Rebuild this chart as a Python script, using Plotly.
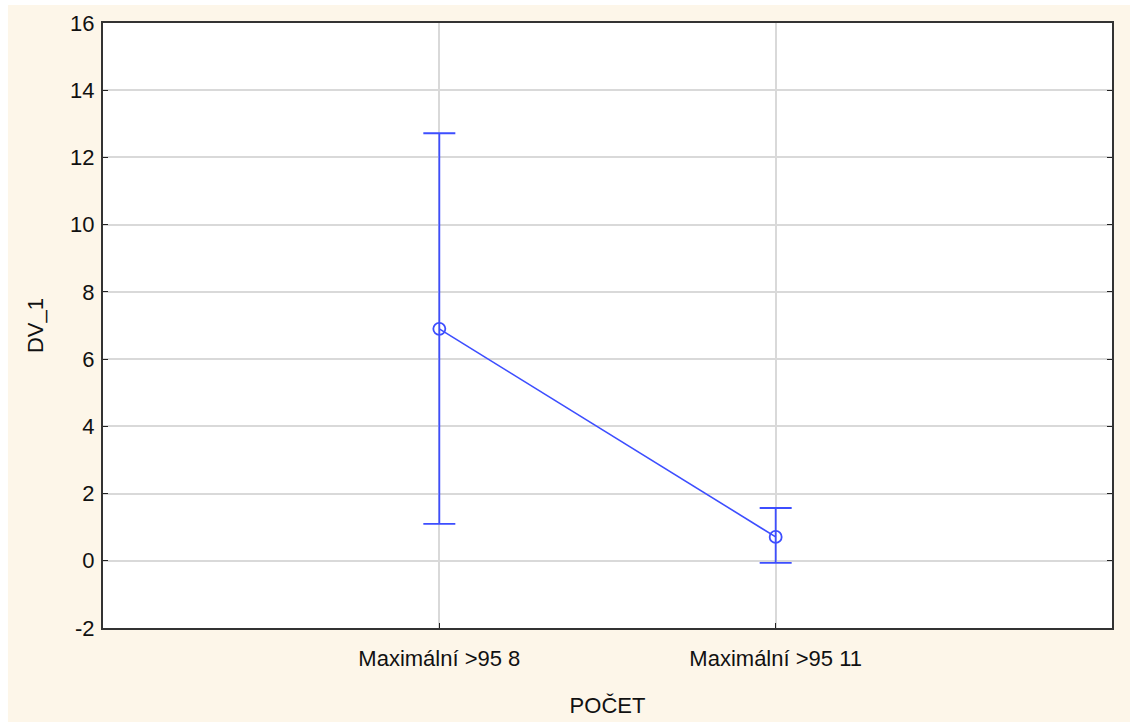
import plotly.graph_objects as go

# Group labels and summary statistics for DV_1
categories = ["Maximální >95 8", "Maximální >95 11"]
means = [6.90, 0.71]
upper = [12.72, 1.57]
lower = [1.10, -0.06]
y_ticks = [-2, 0, 2, 4, 6, 8, 10, 12, 14, 16]

positions = list(range(1, len(categories) + 1))
err_plus = [u - m for u, m in zip(upper, means)]
err_minus = [m - l for m, l in zip(means, lower)]

blue = "#3D4EFF"
font_family = "Liberation Sans, Arial, sans-serif"

fig = go.Figure()
fig.add_trace(go.Scatter(
    x=positions,
    y=means,
    mode="lines+markers",
    line=dict(color=blue, width=1.6),
    marker=dict(symbol="circle-open", size=12, color=blue, line=dict(width=1.8, color=blue)),
    error_y=dict(type="data", symmetric=False, array=err_plus, arrayminus=err_minus,
                 color=blue, thickness=1.8, width=16),
    showlegend=False,
))

fig.update_layout(
    width=1130,
    height=722,
    margin=dict(l=103, r=18, t=23, b=94),
    paper_bgcolor="white",
    plot_bgcolor="rgba(0,0,0,0)",
    font=dict(family=font_family, size=22, color="#111111"),
    shapes=[
        # cream frame around the plotting area
        dict(type="rect", xref="paper", yref="paper", x0=-0.0942, x1=1.02, y0=-0.16, y1=1.0298,
             fillcolor="#FDF6E9", line=dict(width=0), layer="below"),
        dict(type="rect", xref="paper", yref="paper", x0=0, x1=1, y0=0, y1=1,
             fillcolor="white", line=dict(width=0), layer="below"),
    ],
    xaxis=dict(
        range=[0, len(categories) + 1],
        tickmode="array",
        tickvals=positions,
        ticktext=categories,
        ticks="inside",
        ticklen=5,
        tickcolor="#222222",
        ticklabelstandoff=10,
        showgrid=True,
        gridcolor="#D9D9D9",
        gridwidth=1.5,
        zeroline=False,
        showline=True,
        linecolor="#333333",
        linewidth=2,
        mirror=True,
        automargin=False,
        title=dict(text="POČET", standoff=27, font=dict(size=22)),
        tickfont=dict(size=22),
    ),
    yaxis=dict(
        range=[-2, 16],
        tickmode="array",
        tickvals=y_ticks,
        ticktext=[str(v) for v in y_ticks],
        ticks="inside",
        ticklen=5,
        tickcolor="#222222",
        ticklabelstandoff=2,
        showgrid=True,
        gridcolor="#D9D9D9",
        gridwidth=1.5,
        zeroline=False,
        showline=True,
        linecolor="#333333",
        linewidth=2,
        mirror="ticks",
        automargin=False,
        title=dict(text="DV_1", standoff=20, font=dict(size=22)),
        tickfont=dict(size=22),
    ),
)

fig.write_html("out.html")
